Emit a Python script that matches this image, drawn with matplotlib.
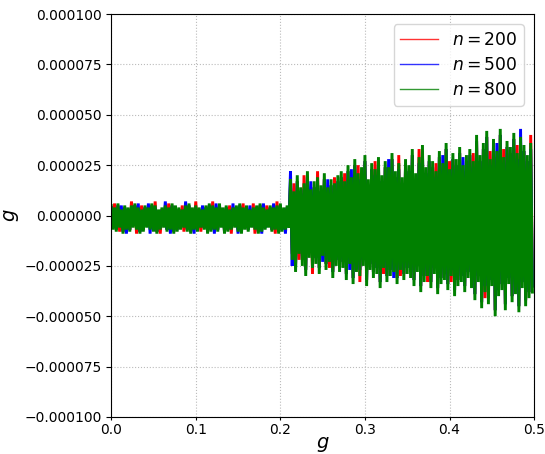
import numpy as np
import matplotlib
matplotlib.use("Agg")
import matplotlib.pyplot as plt

# values in units of 1e-6; upper peaks at g = i*step, lower troughs at g = i*step + step/2
scale = 1e-6
g_step = 0.004

red_upper = [4,6,5,2,4,3,7,5,3,5, 4,3,5,7,2,3,4,6,5,4, 3,5,4,5,3,7,3,2,4,5, 7,3,5,3,4,5,3,4,5,6,
             4,2,6,4,5,3,5,4,3,7, 5,3,4,
             15,16,17,11,20,19,10,14,22,12,18,11,15,19,17,
             19,21,22,16,25,25,21,27,15,23,27,26,17,24,21,28,19,30,16,25,
             22,30,18,33,32,21,27,24,26,29,23,33,27,28,25,31,22,27,
             30,31,37,27,33,39,32,35,29,40,33,34,31,38,35,36,32,27,40]
red_lower = [-6,-7,-8,-8,-6,-7,-5,-9,-8,-7, -5,-6,-7,-8,-9,-5,-7,-6,-8,-7, -6,-8,-7,-8,-6,-7,-8,-6,-8,-7,
             -6,-7,-5,-8,-7,-9,-5,-7,-8,-6, -7,-5,-9,-8,-7,-6,-5,-7,-9,-8, -7,-6,-5,
             -19,-25,-22,-22,-27,-18,-29,-21,-26,-17,-24,-26,-28,-22,-25,
             -23,-29,-21,-31,-25,-33,-22,-32,-24,-28,-26,-33,-29,-30,-27,-25,-31,-30,-29,-26,
             -28,-32,-25,-35,-30,-33,-33,-26,-36,-31,-29,-34,-33,-37,-32,-30,-35,-28,
             -33,-39,-30,-43,-41,-41,-32,-47,-37,-34,-44,-31,-40,-36,-45,-33,-42,-38,-35]

blue_upper = [4,3,5,5,4,3,4,5,6,2, 4,6,5,4,2,3,7,3,5,4, 3,2,7,5,3,4,3,5,4,5, 4,6,5,3,4,2,6,4,5,3,
              4,5,3,4,5,6,2,4,6,4, 5,3,4,
              22,9,17,11,13,19,17,14,16,12,18,18,15,13,17,
              19,14,22,23,25,18,21,27,15,23,20,26,17,24,28,28,19,23,16,25,
              22,30,18,26,32,21,27,24,19,29,30,33,20,28,25,31,29,27,
              30,24,37,27,33,39,25,35,36,40,26,34,31,38,28,43,32,27,33]
blue_lower = [-6,-7,-5,-8,-9,-7,-5,-6,-8,-7, -5,-9,-7,-8,-6,-5,-7,-9,-8,-7, -6,-5,-7,-8,-9,-7,-5,-6,-8,-7,
              -9,-7,-5,-8,-7,-6,-5,-9,-8,-6, -7,-5,-6,-8,-9,-6,-5,-7,-6,-8, -7,-9,-5,
              -25,-25,-16,-22,-27,-18,-23,-21,-26,-23,-24,-20,-28,-22,-25,
              -23,-29,-27,-31,-25,-27,-22,-32,-24,-28,-26,-33,-23,-30,-27,-31,-31,-24,-29,-26,
              -28,-32,-25,-35,-30,-27,-33,-26,-36,-31,-29,-34,-27,-37,-32,-30,-35,-28,
              -33,-39,-30,-43,-35,-41,-32,-47,-37,-34,-44,-31,-40,-36,-45,-33,-42,-38,-35]

green_upper = [5,4,6,3,5,4,5,6,4,3, 5,4,6,5,3,4,5,4,6,5, 4,3,5,6,4,5,4,3,5,6, 5,4,6,4,5,3,4,5,6,4,
               5,3,4,5,6,4,3,5,4,5, 6,4,5,
               18,12,20,14,16,22,13,17,19,15,21,14,18,16,20,
               22,17,25,19,28,21,24,30,18,26,23,29,20,27,24,31,22,26,19,28,
               25,33,21,29,35,24,30,27,22,32,26,36,23,31,28,34,25,30,
               33,27,40,30,36,42,28,38,32,43,29,37,34,41,31,39,35,30,36]
green_lower = [-7,-8,-6,-9,-7,-8,-6,-7,-9,-8, -6,-7,-8,-9,-7,-6,-8,-7,-9,-8, -7,-6,-8,-9,-7,-8,-6,-7,-9,-8,
               -7,-8,-6,-9,-8,-7,-6,-8,-9,-7, -8,-6,-7,-9,-8,-7,-6,-8,-7,-9, -8,-7,-6,
               -22,-28,-19,-25,-30,-21,-26,-24,-29,-20,-27,-23,-31,-25,-28,
               -26,-32,-24,-34,-28,-30,-25,-35,-27,-31,-29,-36,-26,-33,-30,-28,-34,-27,-32,-29,
               -31,-35,-28,-38,-33,-30,-36,-29,-39,-34,-32,-37,-30,-40,-35,-33,-38,-31,
               -36,-42,-33,-46,-38,-44,-35,-50,-40,-37,-47,-34,-43,-39,-48,-36,-45,-41,-38]

series = [("$n = 200$", "red", red_upper, red_lower),
          ("$n = 500$", "blue", blue_upper, blue_lower),
          ("$n = 800$", "green", green_upper, green_lower)]

fig = plt.figure(figsize=(5.45, 4.54), dpi=100)
ax = fig.add_axes([0.204, 0.0815, 0.776, 0.8875])

for label, color, up, lo in series:
    up = np.asarray(up, float) * scale
    lo = np.asarray(lo, float) * scale
    n = len(up)
    xu = np.arange(n) * g_step
    xl = xu + g_step / 2
    x = np.empty(2 * n); y = np.empty(2 * n)
    x[0::2] = xu; x[1::2] = xl
    y[0::2] = up; y[1::2] = lo
    ax.plot(x, y, color=color, lw=2.1, label=label, solid_joinstyle="miter")

ax.set_xlim(0, 0.5)
ax.set_ylim(-0.0001, 0.0001)
ax.set_yticks(np.linspace(-0.0001, 0.0001, 9))
ax.set_xticks(np.linspace(0, 0.5, 6))
ax.yaxis.set_major_formatter(matplotlib.ticker.FuncFormatter(
    lambda v, p: ("%.6f" % v).replace("-", "\u2212") if abs(v) > 1e-12 else "0.000000"))
ax.xaxis.set_major_formatter(matplotlib.ticker.FormatStrFormatter("%.1f"))
ax.tick_params(labelsize=10)
ax.tick_params(axis="x", length=2.5, pad=1.5)
ax.grid(True, linestyle=":", color="#bbbbbb", lw=0.8)
ax.set_xlabel("$g$", fontsize=14, labelpad=-1)
ax.set_ylabel("$g$", fontsize=14, labelpad=2)
leg = ax.legend(loc="upper right", fontsize=12.3, handlelength=2.2, framealpha=0.8,
                labelspacing=0.4, borderaxespad=0.6)
for lh in leg.get_lines():
    lh.set_linewidth(1.0)
    lh.set_alpha(0.8)

fig.savefig("out.png", dpi=100)
